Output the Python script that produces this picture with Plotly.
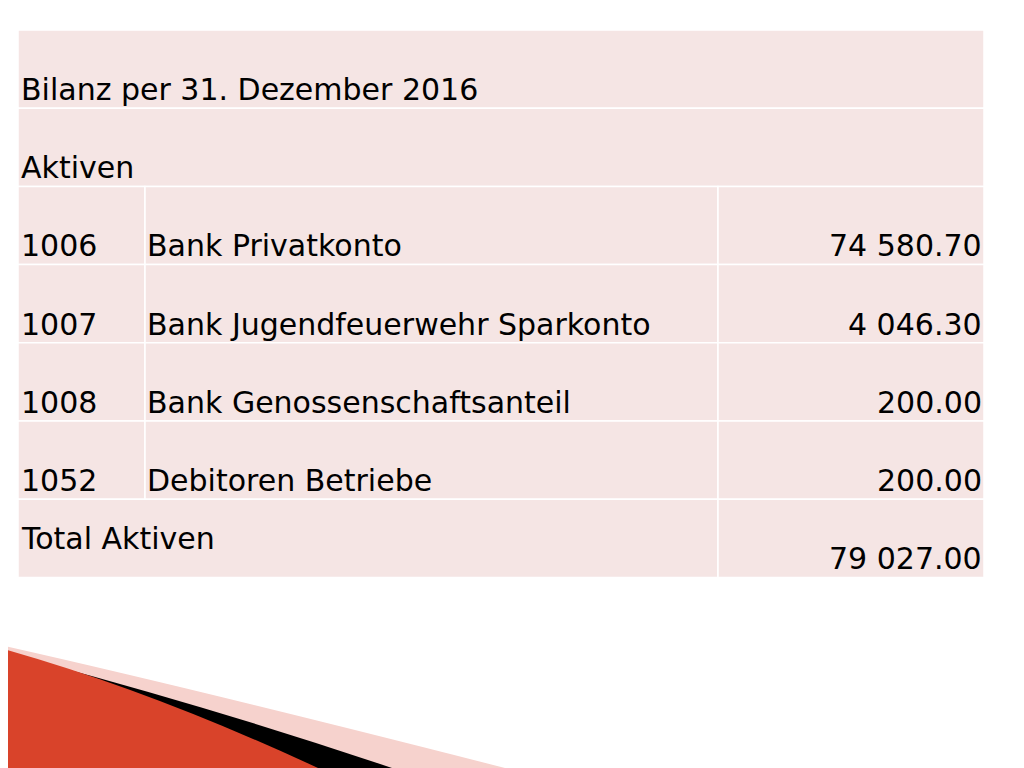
import plotly.graph_objects as go

title = "Bilanz per 31. Dezember 2016"
section = "Aktiven"
konten = ["1006", "1007", "1008", "1052"]
namen = ["Bank Privatkonto", "Bank Jugendfeuerwehr Sparkonto", "Bank Genossenschaftsanteil", "Debitoren Betriebe"]
betraege = ["74 580.70", "4 046.30", "200.00", "200.00"]
total_label = "Total Aktiven"
total_value = "79 027.00"

W, H = 1024, 768
OFF = 8
X0, X1, X2, X3 = 18, 145, 718, 984
Y0, RH = 30, 78.2
fill = "#f5e5e4"
font = dict(family="DejaVu Sans", size=30, color="#000")

fig = go.Figure()
shapes = []
def cell(x0, x1, r):
    shapes.append(dict(type="rect", xref="x", yref="y", x0=x0, x1=x1, y0=Y0 + r*RH, y1=Y0 + (r+1)*RH,
                       fillcolor=fill, line=dict(color="white", width=1.5), layer="below"))

# decoration
shapes.append(dict(type="path", path="M0,645 Q200,690 505,768 L100,768 Z", fillcolor="#f6d2cd", line=dict(width=0), layer="below"))
shapes.append(dict(type="path", path="M40,662 Q220,710 392,768 L300,768 Z", fillcolor="#000", line=dict(width=0), layer="below"))
shapes.append(dict(type="path", path="M0,648 Q150,690 318,768 L0,768 Z", fillcolor="#d9432a", line=dict(width=0), layer="below"))

cell(X0, X3, 0); cell(X0, X3, 1)
for i in range(len(konten)):
    for a, b in [(X0, X1), (X1, X2), (X2, X3)]:
        cell(a, b, 2 + i)
cell(X0, X2, 6); cell(X2, X3, 6)

def txt(x, y, s, anchor="left", bold=False):
    fig.add_annotation(x=x, y=y, text=("<b>%s</b>" % s) if bold else s, showarrow=False,
                       xanchor=anchor, yanchor="middle", font=font)

txt(19, Y0 + 0.76*RH, title)
txt(19, Y0 + 1.76*RH, section)
for i, (k, n, b) in enumerate(zip(konten, namen, betraege)):
    y = Y0 + (2 + i + 0.76)*RH
    txt(19, y, k); txt(145, y, n); txt(984, y, b, "right")
txt(19, Y0 + 6.5*RH, total_label)
txt(984, Y0 + 6.76*RH, total_value, "right")

fig.update_layout(width=W, height=H, margin=dict(l=0, r=0, t=0, b=0), plot_bgcolor="white", paper_bgcolor="white",
                  shapes=shapes, showlegend=False,
                  xaxis=dict(range=[OFF, W + OFF], visible=False, fixedrange=True),
                  yaxis=dict(range=[H + OFF, OFF], visible=False, fixedrange=True))
fig.write_html("out.html")
